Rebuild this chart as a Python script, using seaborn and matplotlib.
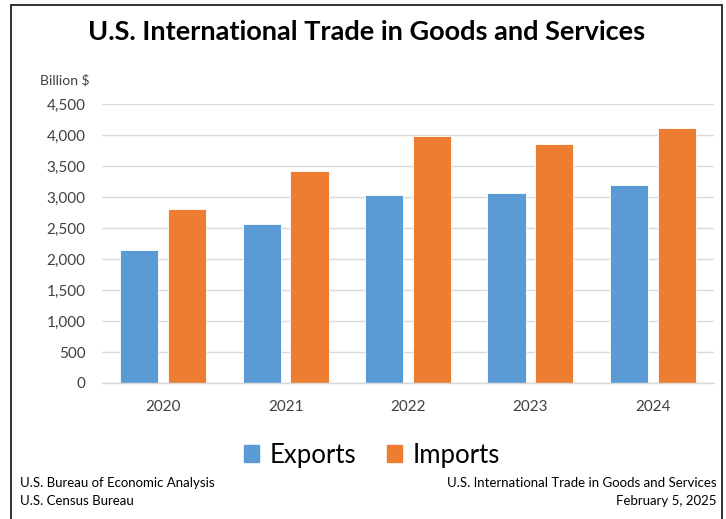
import numpy as np
import pandas as pd
import matplotlib.pyplot as plt
import seaborn as sns
from matplotlib.patches import Rectangle

# values (billion $)
years = ['2020', '2021', '2022', '2023', '2024']
exports = [2143, 2567, 3034, 3061, 3190]
imports = [2809, 3416, 3980, 3851, 4108]
yticks = [0, 500, 1000, 1500, 2000, 2500, 3000, 3500, 4000, 4500]

df = pd.DataFrame({
    'year': years * 2,
    'value': exports + imports,
    'series': ['Exports'] * len(years) + ['Imports'] * len(years),
})

sns.set_style("white")
plt.rcParams['font.family'] = ['Lato', 'DejaVu Sans']

fig = plt.figure(figsize=(7.26, 5.19), dpi=100)
ax = fig.add_axes([102 / 726, 1 - 383 / 519, 612 / 726, 279 / 519])

sns.barplot(data=df, x='year', y='value', hue='series', ax=ax,
            palette={'Exports': '#5B9BD5', 'Imports': '#ED7D31'}, saturation=1,
            width=0.78, gap=0.2, edgecolor='white', linewidth=0.6,
            legend=False)

ax.set_ylim(0, 4500)
ax.set_xlim(-0.5, len(years) - 0.5)
ax.set_yticks(yticks)
ax.set_yticklabels([f'{v:,}' for v in yticks])
ax.yaxis.grid(True, color='#D9D9D9', linewidth=1)
ax.set_axisbelow(True)
for s in ['top', 'right', 'left']:
    ax.spines[s].set_visible(False)
ax.spines['bottom'].set_color('#D9D9D9')
ax.spines['bottom'].set_linewidth(1)
ax.tick_params(axis='y', length=0, pad=12, labelsize=11, labelcolor='#404040')
ax.tick_params(axis='x', length=0, pad=12, labelsize=11, labelcolor='#404040')
ax.set_xticks(np.arange(-0.5, len(years)), minor=True)
ax.tick_params(axis='x', which='minor', direction='in', length=5, color='#D9D9D9')
ax.set_xlabel('')
ax.set_ylabel('')

ax.text(-0.02, 1.085, 'Billion $', transform=ax.transAxes, ha='right', va='center',
        fontsize=10, color='#404040')

fig.text(0.505, 1 - 32 / 519, 'U.S. International Trade in Goods and Services',
         ha='center', va='center', fontsize=19.5, fontweight='bold', color='black')

# legend
handles = [Rectangle((0, 0), 1, 1, color='#5B9BD5'), Rectangle((0, 0), 1, 1, color='#ED7D31')]
fig.legend(handles, ['Exports', 'Imports'], loc='center', bbox_to_anchor=(0.512, 1 - 455 / 519),
           ncol=2, frameon=False, fontsize=18.5, handlelength=0.6, handleheight=0.6,
           handletextpad=0.4, columnspacing=1.2, labelcolor='black')

foot = dict(fontsize=9.5, color='black')
fig.text(20 / 726, 1 - 483 / 519, 'U.S. Bureau of Economic Analysis', ha='left', va='center', **foot)
fig.text(20 / 726, 1 - 501 / 519, 'U.S. Census Bureau', ha='left', va='center', **foot)
fig.text(717 / 726, 1 - 483 / 519, 'U.S. International Trade in Goods and Services',
         ha='right', va='center', **foot)
fig.text(717 / 726, 1 - 501 / 519, 'February 5, 2025', ha='right', va='center', **foot)

# outer frame
fig.patches.append(Rectangle((11 / 726, -0.05), 711 / 726, 1 - 5 / 519 + 0.05,
                             transform=fig.transFigure, fill=False,
                             edgecolor='#222222', linewidth=1.3))

fig.savefig('out.png', dpi=100)
